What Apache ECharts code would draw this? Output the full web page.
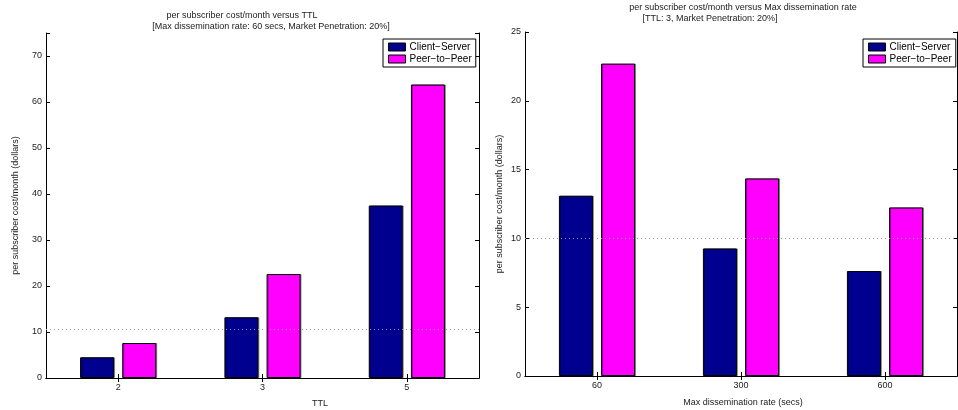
<!DOCTYPE html>
<html><head><meta charset="utf-8">
<script src="https://cdn.jsdelivr.net/npm/echarts@6/dist/echarts.min.js"></script>
<style>html,body{margin:0;padding:0;background:#fff}#c{width:958px;height:410px}</style>
</head><body><div id="c"></div>
<script>
const ttlCategories = ['2', '3', '5'];
const ttlClientServer = [4.5, 13.2, 37.5];
const ttlPeerToPeer = [7.6, 22.6, 63.8];
const rateCategories = ['60', '300', '600'];
const rateClientServer = [13.1, 9.27, 7.63];
const ratePeerToPeer = [22.7, 14.36, 12.25];
const referenceLines = [10.6, 10];
const seriesNames = ['Client\u2212Server', 'Peer\u2212to\u2212Peer'];
const yTicksLeft = {min: 0, max: 75, interval: 10};
const yTicksRight = {min: 0, max: 25, interval: 5};

const FONT = 'Liberation Sans, Arial, Helvetica, sans-serif';
const CS_COLOR = '#00008f';
const PP_COLOR = '#ff00ff';
const chart = echarts.init(document.getElementById('c'), null, {renderer: 'canvas'});

function yAxisPair(gi, t, name, gap) {
  return [{
    type: 'value', gridIndex: gi, position: 'left', min: t.min, max: t.max, interval: t.interval,
    name: name, nameLocation: 'middle', nameGap: gap, nameRotate: 90,
    nameTextStyle: {fontFamily: FONT, fontSize: 9, color: '#222'},
    axisLine: {show: true, lineStyle: {color: '#000', width: 1}},
    axisTick: {show: true, inside: true, length: 4, lineStyle: {color: '#000'}},
    axisLabel: {fontFamily: FONT, fontSize: 9, color: '#222', margin: 4,
      formatter: v => (v % t.interval === 0 ? String(v) : '')},
    splitLine: {show: false}
  }, {
    type: 'value', gridIndex: gi, position: 'right', min: t.min, max: t.max, interval: t.interval,
    axisLine: {show: true, lineStyle: {color: '#000', width: 1}},
    axisTick: {show: true, inside: true, length: 4, lineStyle: {color: '#000'}},
    axisLabel: {show: false}, splitLine: {show: false}
  }];
}
function xAxisPair(gi, cats) {
  return [{
    type: 'category', gridIndex: gi, position: 'bottom', data: cats,
    axisLine: {show: true, lineStyle: {color: '#000', width: 1}},
    axisTick: {show: true, inside: true, alignWithLabel: true, length: 4, lineStyle: {color: '#000'}},
    axisLabel: {fontFamily: FONT, fontSize: 9, color: '#222', margin: 5}
  }, {
    type: 'category', gridIndex: gi, position: 'top', data: cats,
    axisLine: {show: true, lineStyle: {color: '#000', width: 1}},
    axisTick: {show: true, inside: true, alignWithLabel: true, length: 4, lineStyle: {color: '#000'}},
    axisLabel: {show: false}
  }];
}
function barSeries(name, color, data, xi, yi, refLine) {
  const s = {
    name: name, type: 'bar', xAxisIndex: xi, yAxisIndex: yi, data: data,
    barWidth: 34, barGap: '24%',
    itemStyle: {color: color, borderColor: '#000', borderWidth: 1,
      shadowColor: 'rgba(0,0,0,0.35)', shadowOffsetX: 1, shadowOffsetY: 0, shadowBlur: 0},
    emphasis: {disabled: true}
  };
  if (refLine !== undefined) {
    s.markLine = {silent: true, symbol: 'none', label: {show: false},
      lineStyle: {color: '#999', type: [1, 3], width: 1},
      data: [{yAxis: refLine}]};
  }
  return s;
}
const legendBase = {
  orient: 'vertical', itemWidth: 17, itemHeight: 8, itemGap: 2, padding: [3, 4, 3, 5],
  backgroundColor: '#fff', borderColor: '#000', borderWidth: 1, borderRadius: 0,
  icon: 'rect', selectedMode: false,
  textStyle: {fontFamily: FONT, fontSize: 10, color: '#000', padding: [0, 0, 0, -1]},
  itemStyle: {borderColor: '#000', borderWidth: 1}
};

const option = {
  animation: false,
  backgroundColor: '#fff',
  grid: [
    {left: 46, top: 33, width: 433, height: 345},
    {left: 525, top: 32, width: 432, height: 344}
  ],
  xAxis: [...xAxisPair(0, ttlCategories), ...xAxisPair(1, rateCategories)],
  yAxis: [...yAxisPair(0, yTicksLeft, 'per subscriber cost/month (dollars)', 26),
          ...yAxisPair(1, yTicksRight, 'per subscriber cost/month (dollars)', 21)],
  legend: [
    Object.assign({}, legendBase, {left: 383, top: 39, data: seriesNames}),
    Object.assign({}, legendBase, {left: 863, top: 39, data: seriesNames})
  ],
  series: [
    barSeries(seriesNames[0], CS_COLOR, ttlClientServer, 0, 0, referenceLines[0]),
    barSeries(seriesNames[1], PP_COLOR, ttlPeerToPeer, 0, 0),
    barSeries(seriesNames[0], CS_COLOR, rateClientServer, 2, 2, referenceLines[1]),
    barSeries(seriesNames[1], PP_COLOR, ratePeerToPeer, 2, 2)
  ],
  graphic: [
    {type: 'text', style: {x: 242, y: 16, text: 'per subscriber cost/month versus TTL', align: 'center', verticalAlign: 'middle', font: '9px ' + FONT, fill: '#222'}},
    {type: 'text', style: {x: 271, y: 27, text: '[Max dissemination rate: 60 secs, Market Penetration: 20%]', align: 'center', verticalAlign: 'middle', font: '9px ' + FONT, fill: '#222'}},
    {type: 'text', style: {x: 743, y: 8, text: 'per subscriber cost/month versus Max dissemination rate', align: 'center', verticalAlign: 'middle', font: '9px ' + FONT, fill: '#222'}},
    {type: 'text', style: {x: 710, y: 19, text: '[TTL: 3, Market Penetration: 20%]', align: 'center', verticalAlign: 'middle', font: '9px ' + FONT, fill: '#222'}},
    {type: 'text', style: {x: 320, y: 404, text: 'TTL', align: 'center', verticalAlign: 'middle', font: '9px ' + FONT, fill: '#222'}},
    {type: 'text', style: {x: 743, y: 403, text: 'Max dissemination rate (secs)', align: 'center', verticalAlign: 'middle', font: '9px ' + FONT, fill: '#222'}}
  ]
};
chart.setOption(option);
</script>
</body></html>
